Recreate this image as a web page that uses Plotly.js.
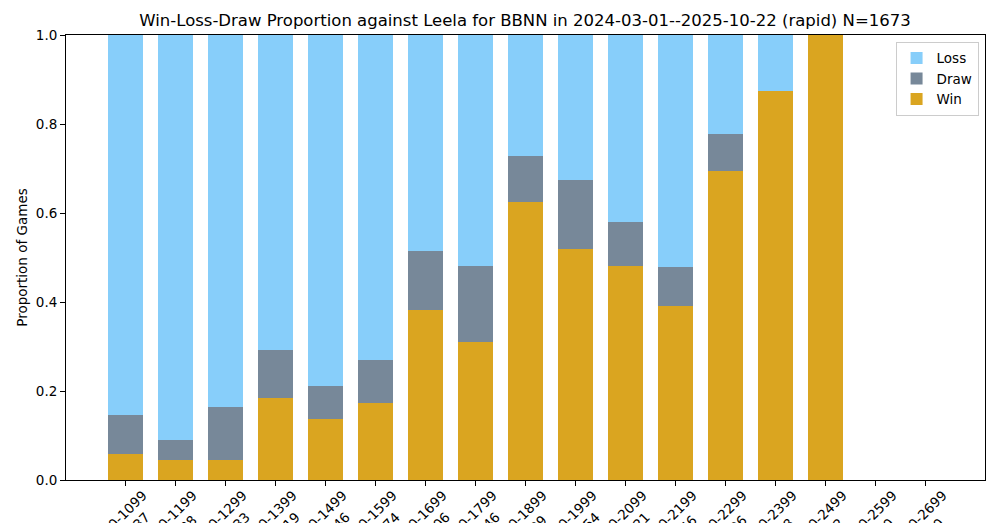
<!DOCTYPE html>
<html>
<head>
<meta charset="utf-8">
<script src="https://cdn.plot.ly/plotly-3.0.1.min.js"></script>
<style>
  body { margin: 0; background: #fff; }
  #graf { width: 1000px; height: 523px; }
</style>
</head>
<body>
<div id="graf"></div>
<script>
// rating bins and how many games in each
var bins = ["1000-1099","1100-1199","1200-1299","1300-1399","1400-1499","1500-1599",
            "1600-1699","1700-1799","1800-1899","1900-1999","2000-2099","2100-2199",
            "2200-2299","2300-2399","2400-2499","2500-2599","2600-2699"];
var counts = [137, 88, 133, 119, 146, 174, 206, 146, 99, 154, 121, 46, 36, 8, 2, 0, 0];

// proportions
var win  = [0.059, 0.045, 0.045, 0.185, 0.137, 0.172, 0.383, 0.311, 0.625, 0.520, 0.480, 0.392, 0.695, 0.875, 1.000, 0, 0];
var draw = [0.088, 0.046, 0.120, 0.108, 0.075, 0.098, 0.132, 0.170, 0.102, 0.155, 0.099, 0.086, 0.083, 0.000, 0.000, 0, 0];
var loss = [0.853, 0.909, 0.835, 0.707, 0.788, 0.730, 0.485, 0.519, 0.273, 0.325, 0.421, 0.522, 0.222, 0.125, 0.000, 0, 0];

var xs = [];
for (var i = 0; i < bins.length; i++) xs.push(i);

var font = "DejaVu Sans, Arial, sans-serif";

var data = [
    {x: xs, y: win,  type: 'bar', name: 'Win',  marker: {color: '#DAA520'}, width: 0.7},
    {x: xs, y: draw, type: 'bar', name: 'Draw', marker: {color: '#778899'}, width: 0.7},
    {x: xs, y: loss, type: 'bar', name: 'Loss', marker: {color: '#87CEFA'}, width: 0.7}
];

// x labels: rotated, centred on the tick like matplotlib does
var notes = [];
for (var j = 0; j < bins.length; j++) {
    notes.push({
        x: j, xref: 'x', y: -0.102, yref: 'paper',
        text: bins[j] + '<br>N=' + counts[j],
        showarrow: false, textangle: -45,
        xanchor: 'center', yanchor: 'middle',
        font: {family: font, size: 13.5, color: '#000'}
    });
}

var layout = {
    width: 1000, height: 523,
    margin: {l: 66, r: 15, t: 35, b: 43},
    paper_bgcolor: '#fff', plot_bgcolor: '#fff',
    barmode: 'stack',
    font: {family: font, size: 13.5, color: '#000'},
    title: {
        text: 'Win-Loss-Draw Proportion against Leela for BBNN in 2024-03-01--2025-10-22 (rapid) N=1673',
        font: {family: font, size: 16.5, color: '#000'},
        x: 0.525, xanchor: 'center', y: 0.962, yanchor: 'middle'
    },
    xaxis: {
        range: [-1.18, 17.2],
        tickvals: xs, ticktext: bins.map(function(){ return ''; }),
        ticks: 'outside', ticklen: 5, tickcolor: '#000',
        showline: true, linecolor: '#000', linewidth: 1, mirror: true,
        showgrid: false, zeroline: false
    },
    yaxis: {
        range: [0, 1],
        tickvals: [0, 0.2, 0.4, 0.6, 0.8, 1.0],
        ticktext: ['0.0', '0.2', '0.4', '0.6', '0.8', '1.0'],
        ticks: 'outside', ticklen: 5, tickcolor: '#000',
        showline: true, linecolor: '#000', linewidth: 1, mirror: true,
        showgrid: false, zeroline: false,
        title: {text: 'Proportion of Games', font: {family: font, size: 13.5}, standoff: 5}
    },
    legend: {
        x: 0.993, xanchor: 'right', y: 0.985, yanchor: 'top',
        bordercolor: '#cccccc', borderwidth: 1, bgcolor: 'rgba(255,255,255,0.8)',
        traceorder: 'reversed',
        font: {family: font, size: 13.5}
    },
    annotations: notes,
    showlegend: true
};

Plotly.newPlot('graf', data, layout, {displayModeBar: false, staticPlot: true});
</script>
</body>
</html>
